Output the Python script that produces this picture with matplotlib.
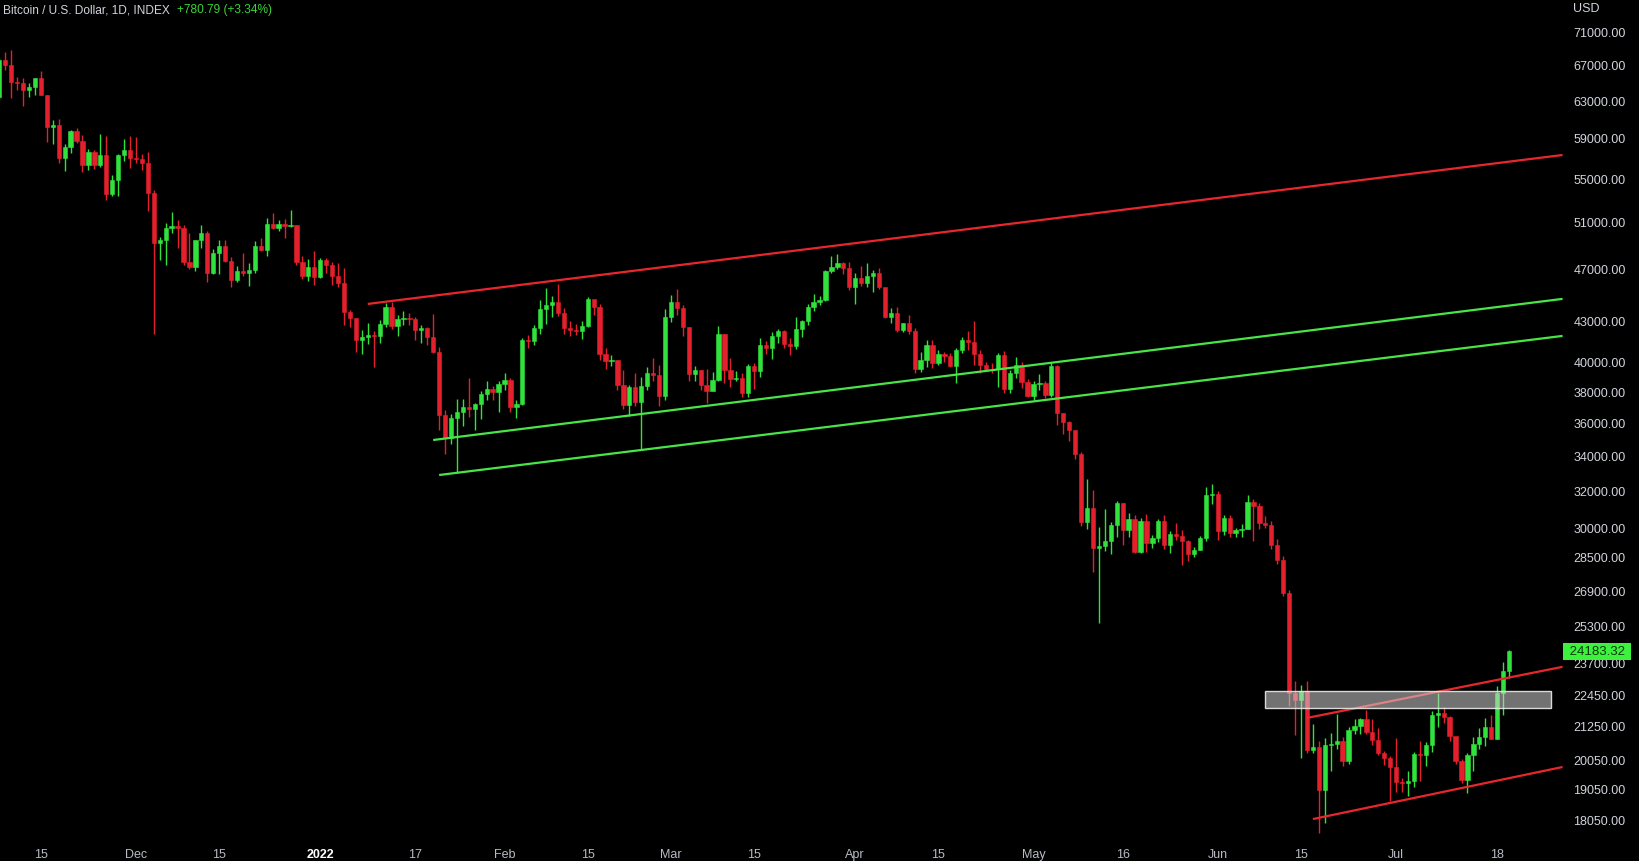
import matplotlib
matplotlib.use("Agg")
import matplotlib.pyplot as plt
import matplotlib.dates as mdates
from matplotlib.patches import Rectangle
from matplotlib.ticker import FuncFormatter, NullLocator
from matplotlib.transforms import blended_transform_factory
import numpy as np
import pandas as pd

# daily BTC candles 2021-11-08 .. 2022-07-20, open = previous close
first_open = 63300
close = [
    # Nov 8-30
    67566, 66971, 64995, 64950, 64155, 64470, 65466, 63557, 60161, 60368, 56943, 58119,
    59697, 58730, 56289, 57570, 56281, 57274, 53570, 54815, 57248, 57806, 57005,
    # Dec
    56909, 56526, 53602, 49153, 49397, 50441, 50588, 50471, 47545, 47140, 49389, 50053,
    46702, 48343, 48864, 47632, 46131, 46834, 46681, 46914, 48890, 48588, 50839, 50429,
    50810, 50640, 50700, 47588, 46444, 47178, 46306,
    # Jan
    47686, 47345, 46458, 45897, 43569, 43160, 41558, 41734, 41911, 41821, 42735, 43949,
    42592, 43099, 43177, 43113, 42250, 42375, 41744, 40680, 36458, 35030, 36276, 36654,
    36954, 36852, 37138, 37784, 38138, 37917, 38483,
    # Feb
    38743, 36952, 37154, 41500, 41441, 42412, 43840, 44118, 44338, 43565, 42407, 42244,
    42197, 42586, 44575, 43961, 40538, 40030, 40122, 38431, 37075, 38286, 37296, 38332,
    39214, 39105, 37709, 43193,
    # Mar
    44354, 43924, 42451, 39137, 39400, 38420, 37989, 38730, 41941, 39439, 38794, 38904,
    37850, 39666, 39338, 41143, 40951, 41801, 42190, 41247, 41077, 42358, 42893, 43960,
    44349, 44500, 46820, 47128, 47465, 47062, 45538,
    # Apr
    46281, 45868, 46453, 46622, 45555, 43206, 43503, 42287, 42782, 42207, 39521, 40127,
    41166, 39935, 40553, 40424, 39716, 40826, 41502, 41374, 40527, 39740, 39478, 39469,
    40458, 38117, 39241, 39773, 38609, 37714,
    # May
    38469, 38529, 37750, 39698, 36575, 36041, 35501, 34059, 30296, 31022, 28936, 29047,
    29283, 30101, 31305, 29862, 30425, 28720, 30314, 29200, 29432, 30323, 29098, 29655,
    29562, 29267, 28627, 28814, 29445, 31726, 31792,
    # Jun
    29799, 30467, 29704, 29833, 29906, 31370, 31155, 30214, 30112, 29083, 28360, 26762,
    22487, 22206, 22572, 20381, 20471, 19017, 20553, 20599, 20710, 19987, 21085, 21231,
    21502, 21028, 20735, 20281, 20104, 19785,
    # Jul 1-20
    19269, 19243, 19297, 20231, 20190, 20548, 21637, 21731, 21592, 20861, 19970, 19323,
    20212, 20569, 20836, 21190, 20779, 22485, 23389, 24183.32,
]
high = [
    67790, 68530, 68790, 65580, 65460, 64920, 65490, 66280, 63560, 60820, 60950, 58350,
    59850, 60000, 59300, 57870, 57800, 59400, 59180, 55280, 57420, 58870, 59250,
    59050, 57350, 57600, 53900, 49700, 50900, 51900, 51150, 50750, 50050, 49450, 50700,
    50200, 48650, 49450, 49400, 47980, 47250, 48300, 47500, 49300, 49550, 51350, 51800,
    51150, 51250, 52050, 50700, 48100, 47850, 48500,
    47900, 47900, 47550, 47500, 47050, 43750, 43150, 42250, 42750, 42200, 43000, 44300,
    44400, 43400, 43700, 43500, 43200, 42650, 42500, 43450, 41050, 36800, 36550, 37500,
    37500, 38900, 37200, 38000, 38650, 38350, 38700,
    39250, 38850, 37400, 41650, 41900, 42600, 44500, 45450, 44800, 45800, 43900, 42950,
    42700, 42900, 44750, 44550, 44200, 40950, 40450, 40150, 39450, 38400, 39250, 38950,
    39650, 40250, 39800, 43800,
    44950, 45400, 44100, 42500, 39700, 39450, 39500, 39300, 42550, 42000, 40250, 39350,
    39250, 39850, 39900, 41650, 41450, 42100, 42350, 42250, 41700, 43250, 43000, 44200,
    45000, 44800, 46900, 48100, 48200, 47600, 47550,
    46700, 47200, 47450, 46900, 47100, 45500, 43900, 43950, 42800, 43400, 42400, 40650,
    41500, 41550, 40850, 40700, 40600, 40950, 41750, 42200, 42950, 40800, 39950, 39900,
    40600, 40750, 39450, 40350, 39950, 38800,
    38650, 39150, 38650, 39900, 39800, 36600, 36100, 35450, 34200, 32600, 32000, 30000,
    30950, 30250, 31400, 31300, 30750, 30650, 30500, 30700, 29600, 30450, 30650, 29800,
    30200, 29850, 29350, 29000, 29550, 32150, 32350,
    31950, 30650, 30650, 29950, 30150, 31750, 31500, 31300, 30600, 30350, 29400, 28550,
    26900, 22950, 22800, 22950, 21300, 20700, 20800, 21000, 21700, 20850, 21200, 21500,
    21550, 21850, 21500, 21150, 20350, 20150,
    20800, 19400, 19650, 20300, 20700, 20650, 21800, 22500, 21950, 21600, 20850, 20050,
    20250, 20850, 21150, 21550, 21650, 22750, 23750, 24250,
]
low = [
    63100, 66380, 63210, 64100, 62330, 63300, 63620, 63550, 58570, 58370, 56530, 55700,
    57450, 58500, 55650, 55800, 55880, 56100, 53000, 53300, 53340, 56700, 56000,
    56500, 55800, 52000, 42000, 47760, 47300, 50050, 48700, 47350, 46980, 46850, 48700,
    45900, 46550, 46600, 47550, 45550, 45950, 46450, 45600, 46700, 48450, 48100, 50350,
    50200, 49550, 50500, 47350, 46150, 46000, 45700,
    46250, 46700, 45700, 45550, 42600, 42500, 40700, 40550, 41250, 39650, 41300, 42500,
    42300, 41850, 42650, 42650, 41550, 41300, 41200, 40600, 35500, 34050, 34650, 32950,
    35750, 36350, 35550, 36200, 37400, 37400, 36650,
    38050, 36650, 36300, 37100, 40950, 41150, 41950, 42700, 43200, 43300, 42000, 41800,
    41900, 41600, 42450, 43400, 40100, 39500, 39700, 38050, 36850, 36400, 37050, 34300,
    38050, 38650, 37050, 37450,
    42850, 43400, 41850, 38700, 38650, 38100, 37200, 38000, 38650, 38550, 38250, 38700,
    37600, 37600, 38150, 38950, 40550, 40200, 41350, 40950, 40500, 40900, 41750, 42600,
    43650, 44150, 44450, 46700, 46950, 46600, 45300,
    44250, 45650, 45550, 45150, 45400, 43150, 42750, 42150, 42150, 42000, 39250, 39300,
    39600, 39550, 39800, 40000, 39600, 38550, 40600, 40850, 39800, 39200, 39350, 39200,
    38250, 37850, 37900, 38900, 38200, 37600,
    37400, 38050, 37550, 37650, 35850, 35300, 34850, 33750, 30050, 29900, 27750, 25400,
    28800, 28650, 29500, 29100, 29500, 28700, 28700, 28750, 28950, 29250, 28900, 28700,
    29350, 28100, 28300, 28500, 28850, 29300, 31250,
    29350, 29600, 29500, 29500, 29500, 29900, 29300, 29900, 29950, 28900, 28150, 26600,
    22000, 20900, 20100, 20250, 20250, 17650, 17950, 19650, 20400, 19800, 19900, 20950,
    20950, 20950, 20550, 20200, 19850, 18650,
    18950, 18950, 18800, 19100, 19300, 19800, 20300, 21200, 21350, 20700, 19900, 19250,
    18900, 19650, 20400, 20500, 20750, 20770, 21650, 23100,
]
dates = pd.date_range("2021-11-08", "2022-07-20", freq="D")

# drawings on the chart
channel_top = (["2022-01-09", "2022-07-29"], [44220, 57280])
support_a = (["2022-01-20", "2022-07-29"], [34910, 44610])
support_b = (["2022-01-21", "2022-07-29"], [32850, 41830])
flag_top = (["2022-06-16", "2022-07-29"], [21540, 23540])
flag_bottom = (["2022-06-17", "2022-07-29"], [18070, 19780])
zone_dates = ["2022-06-09", "2022-07-27"]
zone_prices = [21920, 22570]

price_levels = [71000, 67000, 63000, 59000, 55000, 51000, 47000, 43000, 40000, 38000,
                36000, 34000, 32000, 30000, 28500, 26900, 25300, 23700, 22450, 21250,
                20050, 19050, 18050]
tick_dates = ["2021-11-15", "2021-12-01", "2021-12-15", "2022-01-01", "2022-01-17",
              "2022-02-01", "2022-02-15", "2022-03-01", "2022-03-15", "2022-04-01",
              "2022-04-15", "2022-05-01", "2022-05-16", "2022-06-01", "2022-06-15",
              "2022-07-01", "2022-07-18"]
tick_labels = ["15", "Dec", "15", "2022", "17", "Feb", "15", "Mar", "15", "Apr", "15",
               "May", "16", "Jun", "15", "Jul", "18"]
last_price = 24183.32

BG = "#000000"
UP = "#31e23c"
DOWN = "#e5202d"
TXT = "#d1d4dc"
LINE_RED = "#e8262e"
LINE_GREEN = "#48e448"

plt.rcParams["font.family"] = ["Liberation Sans", "DejaVu Sans"]

W, H = 1639, 862
fig = plt.figure(figsize=(W / 100, H / 100), dpi=100, facecolor=BG)
ax = fig.add_axes([0, 24 / H, 1568 / W, 838 / H], facecolor=BG)
ax.set_yscale("log")

x = mdates.date2num(dates)
c = np.array(close, float)
o = np.array([first_open] + close[:-1], float)
colors = np.where(c >= o, UP, DOWN)
ax.vlines(x, low, high, colors=colors, lw=1, zorder=2)
ax.bar(x, np.abs(c - o), bottom=np.minimum(o, c), width=0.72, color=colors,
       edgecolor=colors, linewidth=0.4, zorder=3)

for (d, p), col in [(channel_top, LINE_RED), (support_a, LINE_GREEN),
                    (support_b, LINE_GREEN), (flag_top, LINE_RED),
                    (flag_bottom, LINE_RED)]:
    ax.plot(mdates.date2num(pd.to_datetime(d)), p, color=col, lw=1.6, zorder=4,
            solid_capstyle="butt")

zx = mdates.date2num(pd.to_datetime(zone_dates))
ax.add_patch(Rectangle((zx[0], zone_prices[0]), zx[1] - zx[0],
                       zone_prices[1] - zone_prices[0],
                       facecolor=(0.82, 0.82, 0.82, 0.55),
                       edgecolor=(0.92, 0.92, 0.92, 0.9), lw=1.0, zorder=5))

ax.set_xlim(mdates.date2num(pd.Timestamp("2021-11-08 03:00")),
            mdates.date2num(pd.Timestamp("2022-07-29 22:00")))
ax.set_ylim(17515, 75110)

ax.yaxis.tick_right()
ax.set_yticks(price_levels)
ax.yaxis.set_minor_locator(NullLocator())
ax.yaxis.set_major_formatter(FuncFormatter(lambda v, _: f"{v:.2f}"))
ax.tick_params(axis="y", length=0, pad=4, labelcolor=TXT, labelsize=9)

ax.set_xticks(mdates.date2num(pd.to_datetime(tick_dates)))
ax.set_xticklabels(tick_labels)
ax.xaxis.set_minor_locator(NullLocator())
ax.tick_params(axis="x", length=0, pad=8, labelcolor="#b8bbc4", labelsize=9)
for t in ax.get_xticklabels():
    if t.get_text() == "2022":
        t.set_fontweight("bold")
        t.set_color("#ffffff")

for s in ax.spines.values():
    s.set_visible(False)

# last price tag on the price scale
tr = blended_transform_factory(ax.transAxes, ax.transData)
ax.text(0.9985, last_price, f" {last_price:.2f} ", transform=tr, ha="left",
        va="center", fontsize=9.5, color="#0c3a0c", zorder=10, clip_on=False,
        bbox=dict(boxstyle="square,pad=0.18", fc="#3cf23c", ec="none"))

fig.text(1573 / W, 1 - 9 / H, "USD", color=TXT, fontsize=9, va="center", ha="left")
title = fig.text(3 / W, 1 - 10.5 / H, "Bitcoin / U.S. Dollar, 1D, INDEX", color=TXT,
                 fontsize=8.6, va="center", ha="left")
ax.annotate("+780.79 (+3.34%)", xy=(1, 0.5), xycoords=title, xytext=(5, 0),
            textcoords="offset points", va="center", ha="left", color="#3ad43a",
            fontsize=8.6, annotation_clip=False)

fig.savefig("out.png", dpi=100, facecolor=BG)
